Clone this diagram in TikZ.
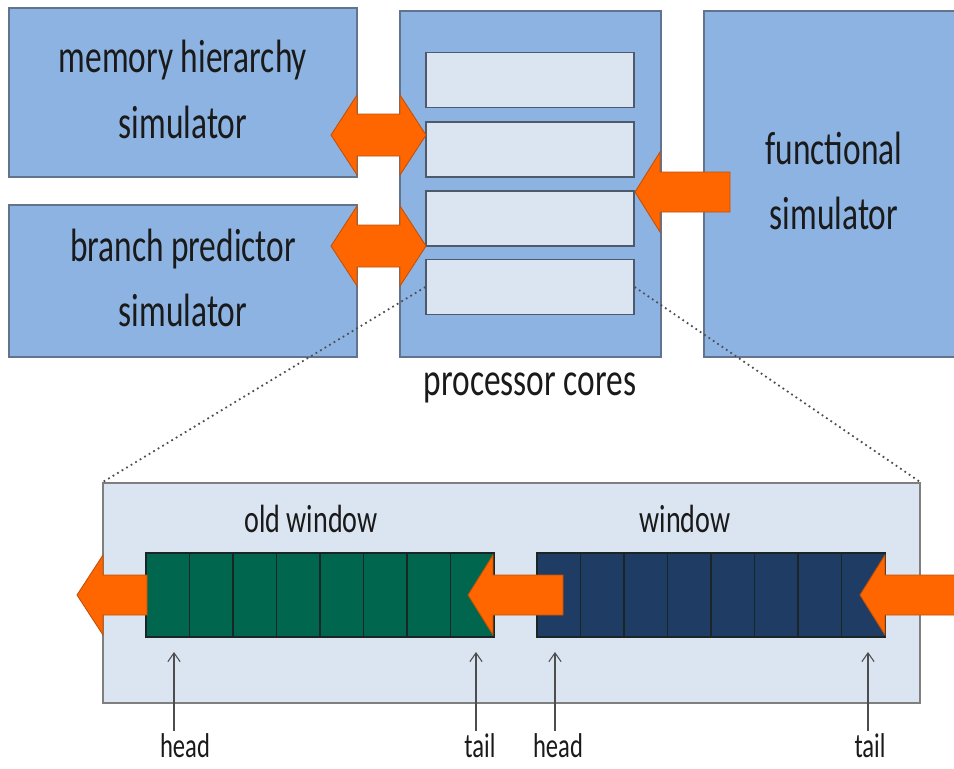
\documentclass[tikz,border=0pt]{standalone}
\usepackage{fontspec}
\setmainfont{Carlito}
\usepackage{graphicx}
\usetikzlibrary{arrows.meta}

\definecolor{simfill}{HTML}{8DB3E2}
\definecolor{simdraw}{HTML}{64738C}
\definecolor{corefill}{HTML}{DBE5F1}
\definecolor{coredraw}{HTML}{4D5A6C}
\definecolor{lowfill}{HTML}{DBE5F1}
\definecolor{lowdraw}{HTML}{7F7F7F}
\definecolor{oldfill}{HTML}{00664D}
\definecolor{newfill}{HTML}{1F3D64}
\definecolor{celldraw}{HTML}{1A2626}
\definecolor{arrfill}{HTML}{FF6600}
\definecolor{arrdraw}{HTML}{C0500A}
\definecolor{zoomcol}{HTML}{4D4D4D}
\definecolor{ptrcol}{HTML}{4D4D4D}
\definecolor{txtcol}{HTML}{1A1A1A}

% slide text is drawn tall and narrow
\newcommand{\stretchtxt}[1]{\scalebox{1}[1.4]{\begin{tabular}{@{}c@{}}#1\end{tabular}}}
\newcommand{\tallword}[1]{\scalebox{1}[1.4]{#1}}

\begin{document}
\begin{tikzpicture}[
    x=0.02cm, y=-0.02cm,
    sim/.style={rectangle, draw=simdraw, fill=simfill, line width=0.8pt, inner sep=0pt, font=\fontsize{19}{26.7}\selectfont, text=txtcol},
    core/.style={rectangle, draw=coredraw, fill=corefill, line width=0.7pt, minimum width=4.16cm, minimum height=1.1cm},
    cell/.style={rectangle, draw=celldraw, line width=0.6pt, minimum width=0.87cm, minimum height=1.68cm, inner sep=0pt},
    oldcell/.style={cell, fill=oldfill},
    newcell/.style={cell, fill=newfill},
    blockarr/.style={fill=arrfill, draw=arrdraw, line width=0.5pt},
    zoomline/.style={dotted, line width=1pt, draw=zoomcol},
    ptr/.style={-{Straight Barb[length=5pt,width=7pt]}, line width=0.6pt, draw=ptrcol},
    big/.style={font=\fontsize{19}{26.7}\selectfont, text=txtcol},
    mid/.style={font=\fontsize{16}{21}\selectfont, text=txtcol},
    small/.style={font=\fontsize{14}{17}\selectfont, text=txtcol, inner sep=1pt, anchor=base}
]
\clip (0,0) rectangle (954,768);

% Simulator boxes
\node[sim, minimum width=6.96cm, minimum height=3.38cm] (mem) at (183,92.5) {\stretchtxt{memory hierarchy\\simulator}};
\node[sim, minimum width=6.96cm, minimum height=3.04cm] (bp) at (183,281) {\stretchtxt{branch predictor\\simulator}};
\node[sim, minimum width=5.22cm, minimum height=6.92cm] (cores) at (530.5,184) {};
\node[sim, minimum width=5.2cm, minimum height=6.92cm] (func) at (834,184) {\stretchtxt{functional\\simulator}};

% Processor cores
\foreach \i/\y in {1/80,2/149.5,3/218.5,4/287}
    \node[core] (core\i) at (530,\y) {};
\node[big] (cap) at (530,382) {\stretchtxt{processor cores}};

% Double arrows to memory and branch predictor
\foreach \cy in {135,246}
    \filldraw[blockarr] (331,\cy) -- (357,\cy-40) -- (357,\cy-21) -- (400,\cy-21) -- (400,\cy-40)
        -- (426,\cy) -- (400,\cy+40) -- (400,\cy+21) -- (357,\cy+21) -- (357,\cy+40) -- cycle;

% Instruction window
\node[rectangle, draw=lowdraw, fill=lowfill, line width=0.8pt, minimum width=16.34cm, minimum height=4.4cm] (win) at (511.5,593) {};
\foreach \i in {1,...,8} {
    \node[oldcell] (old\i) at ({146+43.5*(\i-0.5)},595) {};
    \node[newcell] (new\i) at ({537+43.5*(\i-0.5)},595) {};
}
\node[mid] (oldlbl) at (311,522) {\stretchtxt{old window}};
\node[mid] (newlbl) at (685,522) {\stretchtxt{window}};

% Single arrows (tip x / head base x / tail x / centre y)
\foreach \tx/\bx/\ex/\cy in {635/660/730/192, 77/103/147/595, 468/493/563/595, 860/885/965/595}
    \filldraw[blockarr] (\tx,\cy) -- (\bx,\cy-40) -- (\bx,\cy-20) -- (\ex,\cy-20)
        -- (\ex,\cy+20) -- (\bx,\cy+20) -- (\bx,\cy+40) -- cycle;

% Zoom lines
\draw[zoomline] (core4.west) -- (win.north west);
\draw[zoomline] (core4.east) -- (win.north east);

% Head and tail pointers
\foreach \n/\x/\tx/\t in {hd1/174/185/head, tl1/476/480/tail, hd2/555/558/head, tl2/868/870/tail} {
    \node[small] (\n) at (\tx,757) {\tallword{\t}};
    \coordinate (\n-tip) at (\x,652);
    \draw[ptr] (\n.north -| \n-tip) -- (\n-tip);
}

\end{tikzpicture}
\end{document}
